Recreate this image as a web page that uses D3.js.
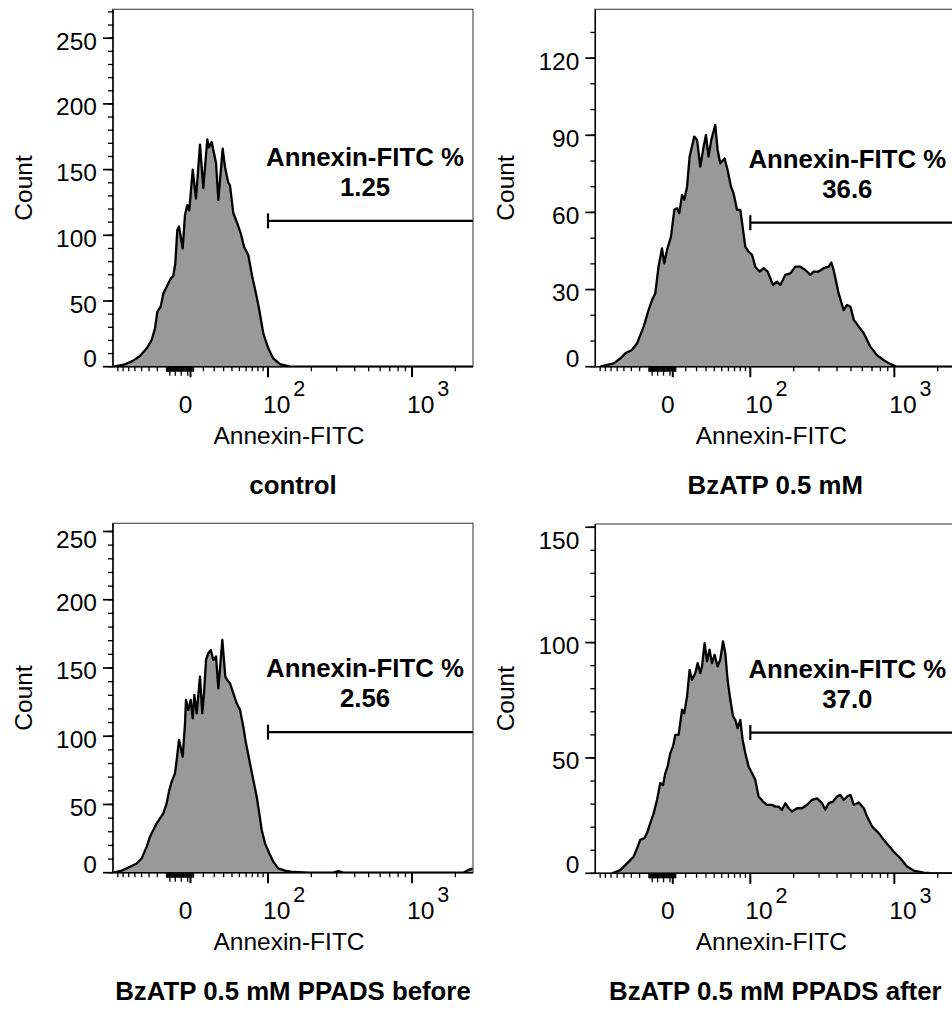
<!DOCTYPE html>
<html><head><meta charset="utf-8">
<script src="https://cdn.jsdelivr.net/npm/d3@7"></script>
<style>
body{margin:0;background:#fff}
svg{display:block}
text{font-family:"Liberation Sans",Arial,sans-serif;fill:#000}
</style>
</head><body>
<svg id="chart" width="952" height="1016"></svg>
<script>
// ---------------- DATA ----------------
const panelTitles = ["control", "BzATP 0.5 mM", "BzATP 0.5 mM PPADS before", "BzATP 0.5 mM PPADS after"];
const gateLabel = "Annexin-FITC %";
const gatePercents = ["1.25", "36.6", "2.56", "37.0"];
const gateLevels = [111, 56, 103, 61];      // count level at which the gate bar is drawn
const gateStart = 100;                        // gate begins at 10^2
const xAxisTitle = "Annexin-FITC";
const yAxisTitle = "Count";
const yMaxes = [272, 139, 256, 151.4];
const yMajorTicks = [
  [0, 50, 100, 150, 200, 250],
  [0, 30, 60, 90, 120],
  [0, 50, 100, 150, 200, 250],
  [0, 50, 100, 150]
];
const xDomain = [-100, 100, 2650];            // min, linear/log switch, max
const xMajorTicks = [0, 100, 1000];
const xMajorLabels = [["0", ""], ["10", "2"], ["10", "3"]];
const xMinorTicks = [-90, -80, -70, -60, -50, -40, -30, 10, 20, 30, 40, 50, 60, 70, 80, 90,
                     200, 300, 400, 500, 600, 700, 800, 900, 2000];
const xZeroClusterTicks = [-20, -19, -18, -17, -16, -15, -14, -13, -12, -11, -10, -9, -8, -7, -6, -5, -4, -3, -2, -1, 0, 1, 2];
const xZeroClusterLong = [-17, -12, -7, -2];

// control
const controlFITC = [-99, -76.5, -62.5, -52.3, -43, -36.7, -32.7, -30, -26.3, -23.5, -20.1, -16.2, -13.8, -12, -10.3, -8.85, -5.85, -4.05, -2.3, -0.86, 1.6, 4.05, 7.2, 9.95, 13.45, 15, 17.5, 19.1, 21.8, 24.2, 28.9, 31.5, 35.4, 37.5, 41.7, 47.1, 51.9, 56.8, 63.4, 70, 76.5, 82.6, 90.3, 100.5, 108.8, 121, 142, 2650];
const controlCount = [0, 1.8, 4.6, 8.1, 14, 20.3, 29.2, 41.9, 45.7, 55.8, 60.9, 67.2, 69, 78.7, 104, 106.6, 90, 115.5, 123, 119, 150, 128, 169, 136, 173, 167, 171, 165, 155, 127, 166, 152, 140, 138, 117, 109, 101.5, 91.3, 85, 68.5, 55.8, 43.1, 25.4, 14, 6.3, 2, 0, 0];

// BzATP 0.5 mM
const bzFITC = [-89.7, -65.7, -55.2, -48, -39.2, -33, -25.6, -20.5, -17.1, -14.1, -11.2, -8.3, -6.4, -4.3, -1.3, 1.07, 3.1, 4.8, 7, 8.85, 11.2, 13.45, 15.6, 17.8, 20.5, 23.8, 27.4, 30, 33, 36.3, 41.3, 44.4, 48, 54.2, 58.7, 64.1, 68.4, 74.2, 80.2, 84.5, 89.7, 96.4, 102.8, 108.3, 116, 123.7, 131.9, 137.7, 143.8, 153.3, 161.6, 175, 189.6, 205.4, 222.4, 241, 261, 275.4, 298.3, 323, 350, 365.2, 379, 410.6, 444.8, 469.7, 496, 523.3, 566.7, 613.9, 681.3, 757.6, 840, 938.7, 1044, 2650];
const bzCount = [0, 1.3, 3.2, 5.2, 6.5, 9.1, 15.6, 22, 25.9, 28.5, 38.9, 46, 40.2, 45.4, 50.6, 61, 61.6, 59.7, 66.8, 64.9, 70, 81.7, 85.6, 89.5, 88.2, 77.8, 85.6, 90.1, 81.7, 88.2, 94, 84.3, 79.1, 81, 76.5, 70, 67.4, 61, 61, 54.5, 46.7, 44.7, 43.5, 38.9, 37, 38.3, 37, 34.4, 31.8, 33.1, 31.8, 35.7, 36.3, 38.9, 38.9, 37.6, 35.7, 37, 37, 38.3, 38.9, 40.5, 37.6, 28.5, 22, 24, 23.3, 18.2, 15.6, 13, 7.8, 4.5, 2.6, 1, 0, 0];

// BzATP 0.5 mM PPADS before
const beforeFITC = [-99.4, -82.6, -67.9, -57.2, -49.9, -43, -38.8, -34.7, -30.7, -27, -23.5, -20.1, -17.5, -15.3, -12.3, -10.8, -8.85, -5.85, -4.05, -3.3, -1.6, 0.14, 1.6, 2.8, 4.6, 7.2, 9.1, 10.55, 12.3, 14.35, 16.6, 19.1, 21.8, 24.2, 28.5, 31.9, 34.2, 37.5, 41.7, 46.3, 50.9, 55.7, 59.8, 65.1, 71.8, 77.8, 82.6, 87.2, 93.8, 102.1, 108.8, 117.9, 131.2, 149.9, 195.7, 284.2, 307.6, 333.5, 2270, 2460, 2650];
const beforeCount = [0, 1.5, 4.4, 6.8, 10.5, 19.1, 26.4, 31.3, 36.2, 39.8, 43.5, 50.8, 60.6, 66.7, 72.8, 82.6, 97.3, 85, 109.5, 126.6, 119.3, 126.6, 113.1, 130.3, 116.8, 143.7, 116.8, 131.5, 155.9, 160.8, 163.2, 155.9, 158.4, 135.1, 170.6, 143.7, 141.2, 138.8, 131.5, 124.1, 119.3, 107, 94.8, 82.6, 67.9, 55.7, 43.5, 31.3, 21.5, 14.2, 8.1, 3.2, 1.5, 0.5, 0, 0, 1.2, 0, 0, 2, 3];

// BzATP 0.5 mM PPADS after
const afterFITC = [-68.4, -55.2, -45.7, -37.2, -33, -29.3, -24.9, -22.1, -18.8, -15.6, -12.55, -9.7, -7.45, -5.6, -3.8, -1.8, 0.14, 1.8, 4.3, 7, 8.85, 11.2, 13.45, 15.6, 18.8, 21.1, 23.8, 25.6, 28.5, 31.2, 34.2, 37.2, 40.4, 44.4, 48, 51.9, 55.2, 58.7, 63, 67.4, 71.3, 75.3, 80.2, 84.5, 89.7, 96.4, 102.8, 108.3, 114.2, 122.5, 130.6, 141.5, 149.2, 157.2, 166, 175, 184.5, 194.8, 211.1, 228.6, 247.7, 268.3, 290.7, 314.9, 332, 350, 375.3, 400, 421.7, 444.8, 469.7, 496, 523.3, 566.7, 613.9, 646.9, 700.7, 777.9, 866, 988.9, 1100, 1226, 1361, 1598, 1876, 2650];
const afterCount = [0, 1.4, 4.3, 7.2, 10.8, 14.5, 15.2, 17.4, 21.7, 26, 31.8, 39.1, 38.3, 43.4, 46.3, 52.1, 55, 60, 60, 70.9, 69.4, 76.7, 88.2, 83.9, 86.8, 91.1, 86.8, 89.7, 99.8, 91.9, 96.9, 91.1, 94.7, 89.7, 92.6, 100.5, 95.5, 83.9, 75.2, 68, 66.5, 62.9, 66.5, 57.9, 52.1, 46.3, 43.4, 40.5, 33.3, 31.1, 29.7, 29.7, 28.9, 28.9, 27.5, 30.4, 28.2, 26.8, 28.2, 28.2, 29.7, 31.8, 32.5, 30.4, 27.5, 30.4, 31.1, 33.3, 34, 31.8, 33.3, 34, 29.7, 30.7, 28.2, 24.6, 20.3, 17.4, 13.7, 9.4, 6.5, 2.9, 1.2, 0.3, 0, 0];

const seriesFITC = [controlFITC, bzFITC, beforeFITC, afterFITC];
const seriesCount = [controlCount, bzCount, beforeCount, afterCount];

// ---------------- LAYOUT ----------------
const W = 952, H = 1016;
const plotW = 360, linW = 155;
const panels = [
  {x0: 113,   y0: 9.3,   y1: 366.7},
  {x0: 595.3, y0: 9.3,   y1: 366.7},
  {x0: 113,   y0: 523.3, y1: 872.7},
  {x0: 595.3, y0: 524,   y1: 873.3}
];
const FS = 24.5, FSB = 25.8;

const svg = d3.select("#chart");
svg.append("rect").attr("width", W).attr("height", H).attr("fill", "#fff");

panels.forEach((P, i) => {
  const g = svg.append("g");
  const sym = d3.scaleSymlog().constant(50).domain([xDomain[0], xDomain[1]]).range([P.x0, P.x0 + linW]);
  const lg = d3.scaleLog().domain([xDomain[1], xDomain[2]]).range([P.x0 + linW, P.x0 + plotW]);
  const x = v => (v <= xDomain[1] ? sym(v) : lg(v));
  const y = d3.scaleLinear().domain([0, yMaxes[i]]).range([P.y1, P.y0]);

  const clipId = "clip" + i;
  svg.append("clipPath").attr("id", clipId).append("rect")
    .attr("x", P.x0).attr("y", P.y0).attr("width", plotW).attr("height", P.y1 - P.y0);

  const pts = seriesFITC[i].map((v, k) => [v, seriesCount[i][k]]);
  const area = d3.area().x(d => x(d[0])).y0(y(0)).y1(d => y(d[1]));
  const line = d3.line().x(d => x(d[0])).y(d => y(d[1]));
  const hg = g.append("g").attr("clip-path", `url(#${clipId})`);
  hg.append("path").attr("d", area(pts)).attr("fill", "#999999");
  hg.append("path").attr("d", line(pts)).attr("fill", "none")
    .attr("stroke", "#000").attr("stroke-width", 2.3).attr("stroke-linejoin", "round");

  // frame
  g.append("rect").attr("x", P.x0).attr("y", P.y0).attr("width", plotW).attr("height", P.y1 - P.y0)
    .attr("fill", "none").attr("stroke", "#555").attr("stroke-width", 1.2);
  // axes lines
  g.append("line").attr("x1", P.x0).attr("x2", P.x0).attr("y1", P.y0).attr("y2", P.y1)
    .attr("stroke", "#000").attr("stroke-width", 1.5);
  g.append("line").attr("x1", P.x0).attr("x2", P.x0 + plotW).attr("y1", P.y1).attr("y2", P.y1)
    .attr("stroke", "#000").attr("stroke-width", 1.5);

  // y ticks
  const yMinor = d3.range(0, yMaxes[i] + 0.001, 10);
  g.selectAll(".ymin").data(yMinor).join("line")
    .attr("x1", P.x0 - 5).attr("x2", P.x0).attr("y1", d => y(d)).attr("y2", d => y(d))
    .attr("stroke", "#000").attr("stroke-width", 1.3);
  g.selectAll(".ymaj").data(yMajorTicks[i]).join("line")
    .attr("x1", P.x0 - 10).attr("x2", P.x0).attr("y1", d => y(d)).attr("y2", d => y(d))
    .attr("stroke", "#000").attr("stroke-width", 1.7);
  g.selectAll(".ylab").data(yMajorTicks[i]).join("text")
    .attr("x", P.x0 - 16)
    .attr("y", d => Math.min(P.y1, Math.max(P.y0 + 25, y(d) + 11.5)))
    .attr("text-anchor", "end").attr("font-size", FS).text(d => d);

  // x ticks
  g.selectAll(".xmin").data(xMinorTicks).join("line")
    .attr("x1", d => x(d)).attr("x2", d => x(d)).attr("y1", P.y1).attr("y2", P.y1 + 4.5)
    .attr("stroke", "#000").attr("stroke-width", 1.3);
  g.selectAll(".xclu").data(xZeroClusterTicks).join("line")
    .attr("x1", d => x(d)).attr("x2", d => x(d)).attr("y1", P.y1).attr("y2", P.y1 + 5)
    .attr("stroke", "#000").attr("stroke-width", 1.6);
  g.selectAll(".xclul").data(xZeroClusterLong).join("line")
    .attr("x1", d => x(d)).attr("x2", d => x(d)).attr("y1", P.y1).attr("y2", P.y1 + 9)
    .attr("stroke", "#000").attr("stroke-width", 1.3);
  g.selectAll(".xmaj").data(xMajorTicks).join("line")
    .attr("x1", d => x(d)).attr("x2", d => x(d)).attr("y1", P.y1).attr("y2", P.y1 + 10.5)
    .attr("stroke", "#000").attr("stroke-width", 2);
  xMajorTicks.forEach((v, k) => {
    const lab = xMajorLabels[k];
    const t = g.append("text").attr("y", P.y1 + 46).attr("font-size", FS);
    if (lab[1] === "") {
      t.attr("x", x(v) - 5).attr("text-anchor", "middle").text(lab[0]);
    } else {
      t.attr("x", x(v) - 5).attr("text-anchor", "start");
      t.append("tspan").text(lab[0]);
      t.append("tspan").attr("dx", 3).attr("dy", -16.5).attr("font-size", 21.5).text(lab[1]);
    }
  });

  // axis titles
  g.append("text").attr("x", P.x0 + plotW / 2 - 4).attr("y", P.y1 + 77)
    .attr("text-anchor", "middle").attr("font-size", FS).text(xAxisTitle);
  g.append("text").attr("transform", `translate(${P.x0 - 81.5},${(P.y0 + P.y1) / 2}) rotate(-90)`)
    .attr("text-anchor", "middle").attr("font-size", FS).text(yAxisTitle);

  // panel title
  g.append("text").attr("x", P.x0 + plotW / 2).attr("y", P.y1 + 127)
    .attr("text-anchor", "middle").attr("font-size", FSB).attr("font-weight", "bold").text(panelTitles[i]);

  // gate
  const gy = y(gateLevels[i]);
  const gx = x(gateStart);
  g.append("line").attr("x1", gx).attr("x2", x(xDomain[2])).attr("y1", gy).attr("y2", gy)
    .attr("stroke", "#000").attr("stroke-width", 2.2);
  g.append("line").attr("x1", gx).attr("x2", gx).attr("y1", gy - 7.5).attr("y2", gy + 7.5)
    .attr("stroke", "#000").attr("stroke-width", 2.2);
  g.append("text").attr("x", gx + 97).attr("y", gy - 55).attr("text-anchor", "middle")
    .attr("font-size", FSB).attr("font-weight", "bold").text(gateLabel);
  g.append("text").attr("x", gx + 97).attr("y", gy - 25).attr("text-anchor", "middle")
    .attr("font-size", FSB).attr("font-weight", "bold").text(gatePercents[i]);
});
</script>
</body></html>
